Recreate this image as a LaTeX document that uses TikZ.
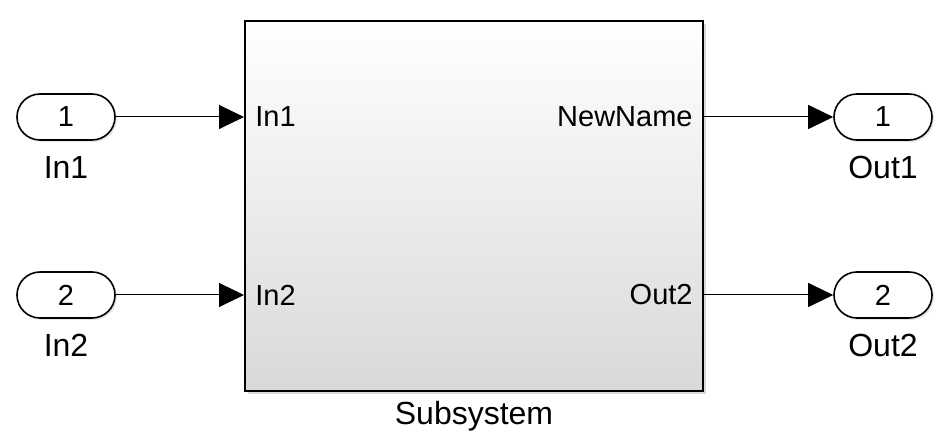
\documentclass[tikz,border=0pt]{standalone}
\usepackage{fontspec}
\setmainfont{Liberation Sans}
\usetikzlibrary{arrows.meta}
\usetikzlibrary{shadows}
\usetikzlibrary{positioning}

\tikzset{
	port/.style={draw, line width=0.8pt, rounded corners=11.5pt, minimum width=49pt, minimum height=23pt, inner sep=0pt, fill=white, drop shadow={shadow xshift=1pt, shadow yshift=-1pt, opacity=0.2}, font=\fontsize{14.5}{17}\selectfont},
	signal/.style={line width=0.5pt, -{Triangle[length=12.5pt,width=12pt]}},
	lbl/.style={inner sep=0pt, font=\fontsize{16}{19}\selectfont},
	plbl/.style={inner sep=0pt, font=\fontsize{14.5}{17}\selectfont}
}

\begin{document}
\begin{tikzpicture}[x=0.5pt, y=-0.5pt]
		\useasboundingbox (0,0) rectangle (948,443);
		
		\node (sub) at (474,206) [draw, line width=1pt, minimum width=229pt, minimum height=185pt, top color=white, bottom color=black!15, drop shadow={shadow xshift=1.5pt, shadow yshift=-1.5pt, opacity=0.3}] {};
		\node (lsub) [lbl, below=4.5pt of sub.south] {Subsystem};
		
		\node (in1) at (66,117) [port] {1};
		\node (in2) at (66,295) [port] {2};
		\node (out1) at (883,117) [port] {1};
		\node (out2) at (883,295) [port] {2};
		
		\node (lin1) [lbl, below=7.5pt of in1.south] {In1};
		\node (lin2) [lbl, below=7.5pt of in2.south] {In2};
		\node (lout1) [lbl, below=7.5pt of out1.south] {Out1};
		\node (lout2) [lbl, below=7.5pt of out2.south] {Out2};
		
		\coordinate (p1) at (sub.west |- in1);
		\coordinate (p2) at (sub.west |- in2);
		\coordinate (q1) at (sub.east |- out1);
		\coordinate (q2) at (sub.east |- out2);
		
		\node (sin1) [plbl, anchor=west] at ([xshift=5.5pt]p1) {In1};
		\node (sin2) [plbl, anchor=west] at ([xshift=5.5pt]p2) {In2};
		\node (sout1) [plbl, anchor=east] at ([xshift=-5.5pt]q1) {NewName};
		\node (sout2) [plbl, anchor=east] at ([xshift=-5.5pt]q2) {Out2};
		
		\draw[signal] (in1) -- (p1);
		\draw[signal] (in2) -- (p2);
		\draw[signal] (q1) -- (out1);
		\draw[signal] (q2) -- (out2);
	\end{tikzpicture}
\end{document}
